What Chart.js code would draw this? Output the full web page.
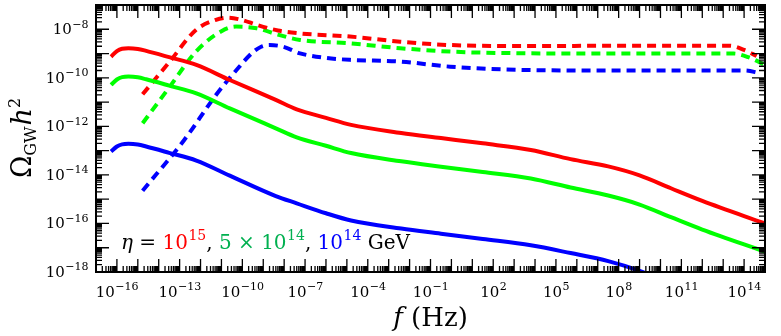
<!DOCTYPE html>
<html lang="en">
<head>
<meta charset="UTF-8">
<title>Omega GW spectrum</title>
<script src="https://cdn.jsdelivr.net/npm/chart.js"></script>
<style>
    body { margin: 0; background: #fff; }
    .box { width: 781px; height: 336px; position: relative; }
</style>
</head>
<body>
<div class="box">
    <canvas id="myChart"></canvas>
</div>

<script>
// values are log10 of f (Hz) and log10 of Omega_GW h^2
const logFSolid = [-16.28, -16.0, -15.75, -15.45, -15.0, -14.6, -13.5, -12.2, -10.6, -8.4, -7.4, -6.0, -4.8, -2.4, -0.5, 1.5, 3.8, 5.7, 7.5, 9.0, 10.5, 12.0, 15.0];
const redSolid   = [-9.13, -8.90, -8.80, -8.78, -8.81, -8.89, -9.15, -9.47, -10.09, -10.91, -11.30, -11.65, -11.94, -12.27, -12.48, -12.70, -12.97, -13.35, -13.65, -14.02, -14.55, -15.07, -16.00];
const greenSolid = [-10.29, -10.07, -9.97, -9.95, -9.98, -10.06, -10.32, -10.64, -11.26, -12.08, -12.45, -12.80, -13.10, -13.44, -13.66, -13.88, -14.15, -14.52, -14.85, -15.22, -15.74, -16.25, -17.16];
const blueSolid  = [-13.04, -12.83, -12.74, -12.72, -12.75, -12.83, -13.09, -13.41, -14.03, -14.87, -15.17, -15.58, -15.88, -16.21, -16.42, -16.64, -16.90, -17.22, -17.55, -17.95, -18.50, -19.00, -19.90];

const logFRedDash = [-14.77, -13.5, -12.22, -11.3, -10.7, -10.0, -9.31, -8.3, -7.24, -4.85, -2.45, -0.06, 3.77, 8.0, 13.3, 14.0, 14.6];
const redDash     = [-10.68, -9.36, -8.03, -7.62, -7.52, -7.62, -7.82, -8.05, -8.17, -8.30, -8.51, -8.65, -8.69, -8.68, -8.68, -8.85, -9.10];

const logFGreenDash = [-14.77, -13.5, -12.22, -11.0, -10.3, -9.31, -8.3, -7.24, -4.85, -2.45, -0.06, 3.77, 8.0, 13.5, 14.2, 15.0];
const greenDash     = [-11.87, -10.40, -8.92, -8.08, -7.89, -7.96, -8.22, -8.44, -8.58, -8.78, -8.92, -8.99, -9.00, -9.00, -9.15, -9.47];

const logFBlueDash = [-14.77, -12.78, -11.26, -10.3, -9.5, -9.1, -8.7, -8.04, -7.24, -6.0, -4.85, -2.45, -0.06, 3.77, 8.0, 14.05, 14.77];
const blueDash     = [-14.65, -12.56, -10.71, -9.70, -8.95, -8.72, -8.65, -8.72, -8.99, -9.18, -9.26, -9.33, -9.54, -9.68, -9.70, -9.70, -9.81];

// axis decades
const xExpMin = -17, xExpMax = 15;
const yExpMin = -18, yExpMax = -7;
const xLabelExps = [-16, -13, -10, -7, -4, -1, 2, 5, 8, 11, 14];
const yLabelExps = [-18, -16, -14, -12, -10, -8];

const toPoints = (fs, os) => fs.map((f, i) => ({ x: Math.pow(10, f), y: Math.pow(10, os[i]) }));

function line(fs, os, color, dashed) {
    return {
        data: toPoints(fs, os),
        borderColor: color,
        borderWidth: 4,
        borderDash: dashed ? [9, 6] : [],
        pointRadius: 0,
        fill: false,
        cubicInterpolationMode: 'monotone'
    };
}

const serif = '"DejaVu Serif", serif';

// "10" with a raised exponent, drawn as text
function drawPow(ctx, exp, x, y, align, size, color) {
    const sup = exp < 0 ? '\u2212' + (-exp) : String(exp);
    const supSize = Math.round(size * 0.72);
    ctx.font = size + 'px ' + serif;
    const wb = ctx.measureText('10').width;
    ctx.font = supSize + 'px ' + serif;
    const ws = ctx.measureText(sup).width;
    let left = x;
    if (align === 'center') left = x - (wb + ws) / 2;
    if (align === 'right') left = x - (wb + ws);
    ctx.fillStyle = color;
    ctx.textAlign = 'left';
    ctx.textBaseline = 'alphabetic';
    ctx.font = size + 'px ' + serif;
    ctx.fillText('10', left, y);
    ctx.font = supSize + 'px ' + serif;
    ctx.fillText(sup, left + wb + 0.5, y - size * 0.45);
    return left + wb + ws + 0.5;
}

function drawText(ctx, txt, x, y, font, color) {
    ctx.font = font;
    ctx.fillStyle = color;
    ctx.textAlign = 'left';
    ctx.textBaseline = 'alphabetic';
    ctx.fillText(txt, x, y);
    return x + ctx.measureText(txt).width;
}

// frame, inward ticks, tick labels, titles and the eta note
const decor = {
    id: 'decor',
    afterDatasetsDraw(chart) {
        const ctx = chart.ctx;
        const a = chart.chartArea;
        const xs = chart.scales.x, ys = chart.scales.y;
        ctx.save();
        ctx.strokeStyle = '#000';
        ctx.lineWidth = 1.3;
        ctx.beginPath();
        for (let e = xExpMin; e <= xExpMax; e++) {
            for (let m = 1; m < 10; m++) {
                if (e === xExpMax && m > 1) break;
                const px = xs.getPixelForValue(m * Math.pow(10, e));
                const len = m === 1 ? 13 : 6;
                ctx.moveTo(px, a.bottom); ctx.lineTo(px, a.bottom - len);
                ctx.moveTo(px, a.top); ctx.lineTo(px, a.top + len);
            }
        }
        for (let e = yExpMin; e <= yExpMax; e++) {
            for (let m = 1; m < 10; m++) {
                if (e === yExpMax && m > 1) break;
                const py = ys.getPixelForValue(m * Math.pow(10, e));
                const len = m === 1 ? 13 : 6;
                ctx.moveTo(a.left, py); ctx.lineTo(a.left + len, py);
                ctx.moveTo(a.right, py); ctx.lineTo(a.right - len, py);
            }
        }
        ctx.stroke();

        ctx.lineWidth = 2;
        ctx.strokeRect(a.left, a.top, a.right - a.left, a.bottom - a.top);

        xLabelExps.forEach(e => {
            drawPow(ctx, e, xs.getPixelForValue(Math.pow(10, e)), a.bottom + 25, 'center', 15, '#000');
        });
        yLabelExps.forEach(e => {
            drawPow(ctx, e, a.left - 8, ys.getPixelForValue(Math.pow(10, e)) + 5, 'right', 15, '#000');
        });

        // x title
        ctx.font = 'italic 26px ' + serif;
        const wf = ctx.measureText('f').width;
        ctx.font = '26px ' + serif;
        const wh = ctx.measureText(' (Hz)').width;
        let cx = (a.left + a.right) / 2 - (wf + wh) / 2;
        cx = drawText(ctx, 'f', cx, 326, 'italic 26px ' + serif, '#000');
        drawText(ctx, ' (Hz)', cx, 326, '26px ' + serif, '#000');

        // y title, rotated
        ctx.save();
        ctx.translate(31, (a.top + a.bottom) / 2);
        ctx.rotate(-Math.PI / 2);
        ctx.font = '27px ' + serif;
        const w1 = ctx.measureText('\u03A9').width;
        ctx.font = '16px ' + serif;
        const w2 = ctx.measureText('GW').width;
        ctx.font = 'italic 27px ' + serif;
        const w3 = ctx.measureText('h').width;
        ctx.font = '16px ' + serif;
        const w4 = ctx.measureText('2').width;
        let tx = -(w1 + w2 + w3 + w4) / 2;
        tx = drawText(ctx, '\u03A9', tx, 0, '27px ' + serif, '#000');
        tx = drawText(ctx, 'GW', tx, 5, '16px ' + serif, '#000');
        tx = drawText(ctx, 'h', tx + 1, 0, 'italic 27px ' + serif, '#000');
        drawText(ctx, '2', tx, -11, '16px ' + serif, '#000');
        ctx.restore();

        // eta note
        const by = 249;
        let lx = 121;
        lx = drawText(ctx, '\u03B7', lx, by, 'italic 20px ' + serif, '#000');
        lx = drawText(ctx, ' = ', lx, by, '20px ' + serif, '#000');
        lx = drawPow(ctx, 15, lx, by, 'left', 20, '#ff0000');
        lx = drawText(ctx, ', ', lx, by, '20px ' + serif, '#000');
        lx = drawText(ctx, '5 \u00D7 ', lx, by, '20px ' + serif, '#00b050');
        lx = drawPow(ctx, 14, lx, by, 'left', 20, '#00b050');
        lx = drawText(ctx, ', ', lx, by, '20px ' + serif, '#000');
        lx = drawPow(ctx, 14, lx, by, 'left', 20, '#0000ff');
        drawText(ctx, ' GeV', lx, by, '20px ' + serif, '#000');
        ctx.restore();
    }
};

const config = {
    type: 'line',
    data: {
        datasets: [
            line(logFSolid, redSolid, '#ff0000', false),
            line(logFSolid, greenSolid, '#00ff00', false),
            line(logFSolid, blueSolid, '#0000ff', false),
            line(logFRedDash, redDash, '#ff0000', true),
            line(logFGreenDash, greenDash, '#00ff00', true),
            line(logFBlueDash, blueDash, '#0000ff', true)
        ]
    },
    options: {
        responsive: true,
        maintainAspectRatio: false,
        animation: false,
        layout: { padding: { left: 96, right: 16, top: 5, bottom: 64 } },
        plugins: { legend: { display: false }, tooltip: { enabled: false } },
        scales: {
            x: { type: 'logarithmic', min: Math.pow(10, xExpMin), max: Math.pow(10, xExpMax), display: false },
            y: { type: 'logarithmic', min: Math.pow(10, yExpMin), max: Math.pow(10, yExpMax), display: false }
        }
    },
    plugins: [decor]
};

const myChart = new Chart(document.getElementById('myChart'), config);
</script>
</body>
</html>
